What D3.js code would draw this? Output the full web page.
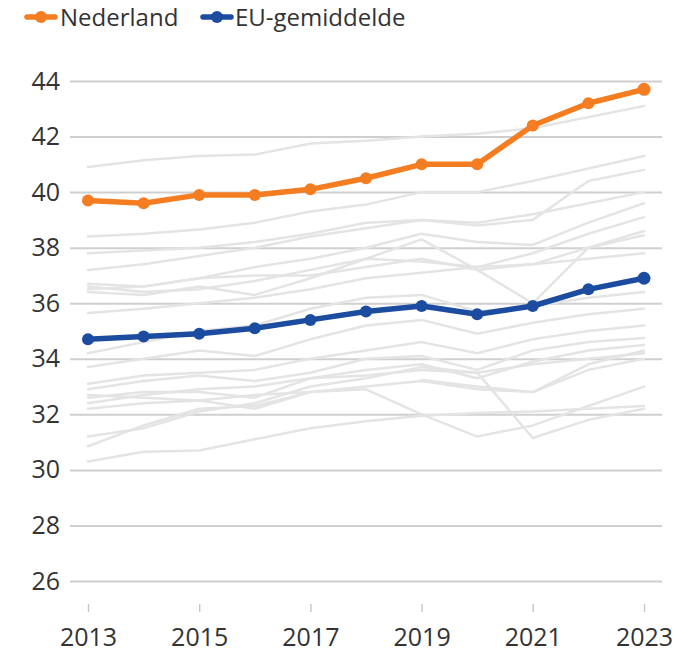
<!DOCTYPE html>
<html>
<head>
<meta charset="utf-8">
<script src="https://cdn.jsdelivr.net/npm/d3@7/dist/d3.min.js"></script>
<style>
  html, body { margin: 0; padding: 0; background: #fff; }
  svg { display: block; }
  text { font-family: "Open Sans", sans-serif; fill: #333; }
</style>
</head>
<body>
<svg id="chart" width="681" height="655"></svg>
<script>
// ---- data ----
const years = [2013, 2014, 2015, 2016, 2017, 2018, 2019, 2020, 2021, 2022, 2023];
const yTicks = [26, 28, 30, 32, 34, 36, 38, 40, 42, 44];
const xTicks = [2013, 2015, 2017, 2019, 2021, 2023];
const seriesNames = ["Nederland", "EU-gemiddelde"];

const nederland = [39.7, 39.6, 39.9, 39.9, 40.1, 40.5, 41.0, 41.0, 42.4, 43.2, 43.7];
const euGemiddelde = [34.7, 34.8, 34.9, 35.1, 35.4, 35.7, 35.9, 35.6, 35.9, 36.5, 36.9];

// other EU member states (grey background lines)
const c1  = [40.9, 41.15, 41.3, 41.35, 41.75, 41.85, 42.0, 42.1, 42.3, 42.7, 43.1];
const c2  = [38.4, 38.5, 38.65, 38.9, 39.3, 39.55, 40.0, 40.0, 40.4, 40.85, 41.3];
const c3  = [37.8, 37.9, 38.0, 38.2, 38.5, 38.9, 39.0, 38.8, 39.0, 40.4, 40.8];
const c4  = [37.2, 37.4, 37.7, 38.0, 38.4, 38.7, 39.0, 38.9, 39.2, 39.6, 40.0];
const c5  = [36.7, 36.6, 36.9, 37.3, 37.6, 38.0, 38.5, 38.2, 38.1, 38.9, 39.6];
const c6  = [36.6, 36.4, 36.5, 36.8, 37.2, 37.6, 37.5, 37.3, 37.8, 38.5, 39.1];
const c7  = [36.5, 36.6, 36.9, 37.0, 37.0, 37.3, 37.6, 37.2, 37.4, 38.0, 38.6];
const c8  = [36.4, 36.3, 36.6, 36.3, 36.9, 37.6, 38.3, 37.2, 36.0, 38.0, 38.45];
const c9  = [35.65, 35.8, 36.0, 36.2, 36.5, 36.9, 37.1, 37.3, 37.4, 37.6, 37.8];
const c10 = [34.2, 34.6, 35.0, 35.2, 35.8, 36.2, 36.3, 35.7, 35.9, 36.2, 36.4];
const c11 = [33.7, 34.0, 34.3, 34.1, 34.7, 35.2, 35.4, 34.9, 35.3, 35.6, 35.8];
const c12 = [33.1, 33.4, 33.5, 33.6, 34.0, 34.3, 34.6, 34.2, 34.7, 35.0, 35.2];
const c13 = [32.9, 33.2, 33.4, 33.2, 33.5, 34.0, 34.1, 33.6, 34.3, 34.6, 34.75];
const c14 = [32.6, 32.8, 32.8, 32.6, 33.3, 33.6, 33.8, 33.3, 33.9, 34.3, 34.5];
const c15 = [32.4, 32.7, 32.9, 33.0, 33.3, 33.4, 33.6, 33.5, 33.8, 34.0, 34.2];
const c16 = [32.2, 32.4, 32.5, 32.2, 32.8, 32.9, 32.0, 31.2, 31.6, 32.3, 33.0];
const c17 = [31.2, 31.5, 32.1, 32.4, 33.0, 33.3, 33.7, 33.5, 31.15, 31.8, 32.2];
const c18 = [30.85, 31.6, 32.2, 32.3, 32.8, 33.0, 33.2, 32.9, 32.8, 33.6, 34.0];
const c19 = [30.3, 30.65, 30.7, 31.1, 31.5, 31.75, 31.95, 32.05, 32.1, 32.2, 32.3];
const c20 = [null, null, null, null, null, null, 33.24, 33.0, 32.8, 33.8, 34.3];
const c21 = [32.7, 32.6, 32.5, 32.7, 32.8, null, null, null, null, null, null];
const greyCountries = [c1, c2, c3, c4, c5, c6, c7, c8, c9, c10, c11, c12, c13, c14, c15, c16, c17, c18, c19, c20, c21];

// ---- chart ----
const svg = d3.select("#chart");
const x = d3.scaleLinear().domain([2013, 2023]).range([88, 644]);
const y = d3.scaleLinear().domain([26, 44]).range([581, 81]);
const gridLeft = 70, gridRight = 662;
const textColor = "#383838";

// y grid + labels
const yAxis = d3.axisLeft(y).tickValues(yTicks)
  .tickSize(-(gridRight - gridLeft)).tickPadding(10).tickFormat(d3.format("d"));
const gy = svg.append("g").attr("transform", `translate(${gridLeft},0)`).call(yAxis);
gy.select(".domain").remove();
gy.selectAll(".tick line").attr("stroke", "#cfcfcf").attr("stroke-width", 2);
gy.selectAll(".tick text").attr("x", -10).attr("font-size", 25).attr("fill", textColor)
  .style("font-family", "'Open Sans', sans-serif");

// x axis ticks + labels
const xAxis = d3.axisBottom(x).tickValues(xTicks).tickSize(8).tickPadding(0).tickFormat(d3.format("d"));
const gx = svg.append("g").attr("transform", "translate(0,604)").call(xAxis);
gx.select(".domain").remove();
gx.selectAll(".tick line").attr("stroke", "#c8c8c8").attr("stroke-width", 1.5);
gx.selectAll(".tick text").attr("y", 42).attr("dy", 0).attr("font-size", 25).attr("fill", textColor)
  .style("font-family", "'Open Sans', sans-serif");

const line = d3.line()
  .defined(d => d != null)
  .x((d, i) => x(years[i]))
  .y(d => y(d));

// grey lines
svg.append("g").selectAll("path").data(greyCountries).join("path")
  .attr("d", line).attr("fill", "none")
  .attr("stroke", "#e4e4e4").attr("stroke-width", 2.5)
  .attr("stroke-linejoin", "round").attr("stroke-linecap", "round");

function drawSeries(vals, color) {
  const g = svg.append("g");
  g.append("path").datum(vals).attr("d", line).attr("fill", "none")
    .attr("stroke", color).attr("stroke-width", 5.5).attr("stroke-linejoin", "round");
  g.selectAll("circle").data(vals).join("circle")
    .attr("cx", (d, i) => x(years[i])).attr("cy", d => y(d))
    .attr("r", (d, i) => i === vals.length - 1 ? 6.5 : 6)
    .attr("fill", color);
}
const blue = "#1b4c9f", orange = "#f47d22";
drawSeries(euGemiddelde, blue);
drawSeries(nederland, orange);

// legend
const legend = [
  { name: seriesNames[0], color: orange, x: 27, tx: 60 },
  { name: seriesNames[1], color: blue, x: 203, tx: 235 }
];
const lg = svg.append("g");
legend.forEach(l => {
  lg.append("line").attr("x1", l.x).attr("x2", l.x + 28).attr("y1", 17).attr("y2", 17)
    .attr("stroke", l.color).attr("stroke-width", 5.5).attr("stroke-linecap", "round");
  lg.append("circle").attr("cx", l.x + 14).attr("cy", 17).attr("r", 6).attr("fill", l.color);
  lg.append("text").attr("x", l.tx).attr("y", 26).attr("font-size", 24).attr("fill", textColor).text(l.name);
});
</script>
</body>
</html>
